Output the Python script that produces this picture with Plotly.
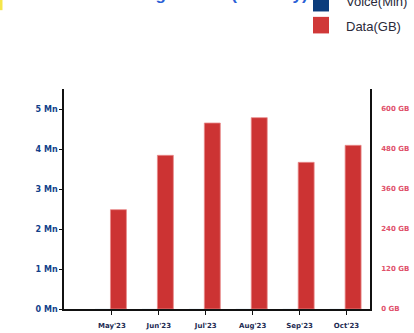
import plotly.graph_objects as go

months = ["May'23", "Jun'23", "Jul'23", "Aug'23", "Sep'23", "Oct'23"]
voice_min = [0, 0, 0, 0, 0, 0]          # millions of minutes (not visible)
data_gb = [298, 461, 558, 574, 440, 491]  # GB

left_vals = [0, 1, 2, 3, 4, 5]
left_text = [f"{v} Mn" for v in left_vals]
right_vals = [0, 120, 240, 360, 480, 600]
right_text = [f"{v} GB" for v in right_vals]

W, H = 414, 333
L, R, T, B = 64, 44, 89, 23.5
pw, ph = W - L - R, H - T - B


def px(x):
    return (x - L) / pw


def py(y):
    return (H - B - y) / ph


fig = go.Figure()
fig.add_trace(go.Bar(x=months, y=voice_min, name="Voice(Min)", marker_color="#0b3c7c",
                     width=0.34, offset=-0.36, yaxis="y", showlegend=False))
fig.add_trace(go.Bar(x=months, y=data_gb, name="Data(GB)", marker_color="#cc3333",
                     marker_line=dict(color="#e88a8a", width=0.8),
                     width=0.34, offset=-0.03, yaxis="y2", showlegend=False))

tickfont_dark = dict(family="DejaVu Sans", size=7, color="#1c2a52", weight="bold")

fig.update_layout(
    width=W, height=H,
    margin=dict(l=L, r=R, t=T, b=B),
    paper_bgcolor="white", plot_bgcolor="white",
    xaxis=dict(type="category", range=[-1.02, 5.5], showline=True, linecolor="#111",
               linewidth=1.6, ticks="outside", ticklen=4, tickcolor="#111", tickwidth=1.2,
               ticklabelstandoff=5, automargin=False,
               tickfont=tickfont_dark, showgrid=False, zeroline=False),
    yaxis=dict(range=[0, 5.5], tickvals=left_vals, ticktext=left_text, showline=True,
               linecolor="#111", linewidth=1.6, ticks="outside", ticklen=3, tickcolor="#111",
               tickwidth=1.2, automargin=False,
               tickfont=dict(family="DejaVu Sans", size=8, color="#123f8a", weight="bold"),
               showgrid=False, zeroline=False),
    yaxis2=dict(range=[0, 660], tickvals=right_vals, ticktext=right_text, overlaying="y",
                side="right", showline=True, linecolor="#111", linewidth=1.6, ticks="",
                ticklabelstandoff=8, automargin=False,
                tickfont=dict(family="DejaVu Sans", size=7, color="#e0506a", weight="bold"),
                showgrid=False, zeroline=False),
    showlegend=False,
)

# manual legend
legend_items = [("Voice(Min)", "#0b3c7c", 3, 1.5), ("Data(GB)", "#d03838", 25, 26)]
for label, col, cy, ty in legend_items:
    fig.add_shape(type="rect", xref="paper", yref="paper",
                  x0=px(313), x1=px(329), y0=py(cy + 8.3), y1=py(cy - 8.3),
                  fillcolor=col, line=dict(width=0))
    fig.add_annotation(text=label, xref="paper", yref="paper", x=px(344), y=py(ty),
                       xanchor="left", yanchor="middle", showarrow=False,
                       font=dict(family="Liberation Sans", size=13, color="#2a2a3a"))

# title (mostly cut off at top)
fig.add_annotation(text="Voice &amp; Data Usage Trend (Monthly)", xref="paper", yref="paper",
                   x=px(15), y=py(6), xanchor="left", yanchor="bottom", showarrow=False,
                   font=dict(family="Liberation Sans", size=17, color="#2b5fd6", weight="bold"))
fig.add_shape(type="rect", xref="paper", yref="paper", x0=px(0), x1=px(2.5),
              y0=py(10), y1=py(-5), fillcolor="#f5e64a", line=dict(width=0))

fig.write_html("out.html")
